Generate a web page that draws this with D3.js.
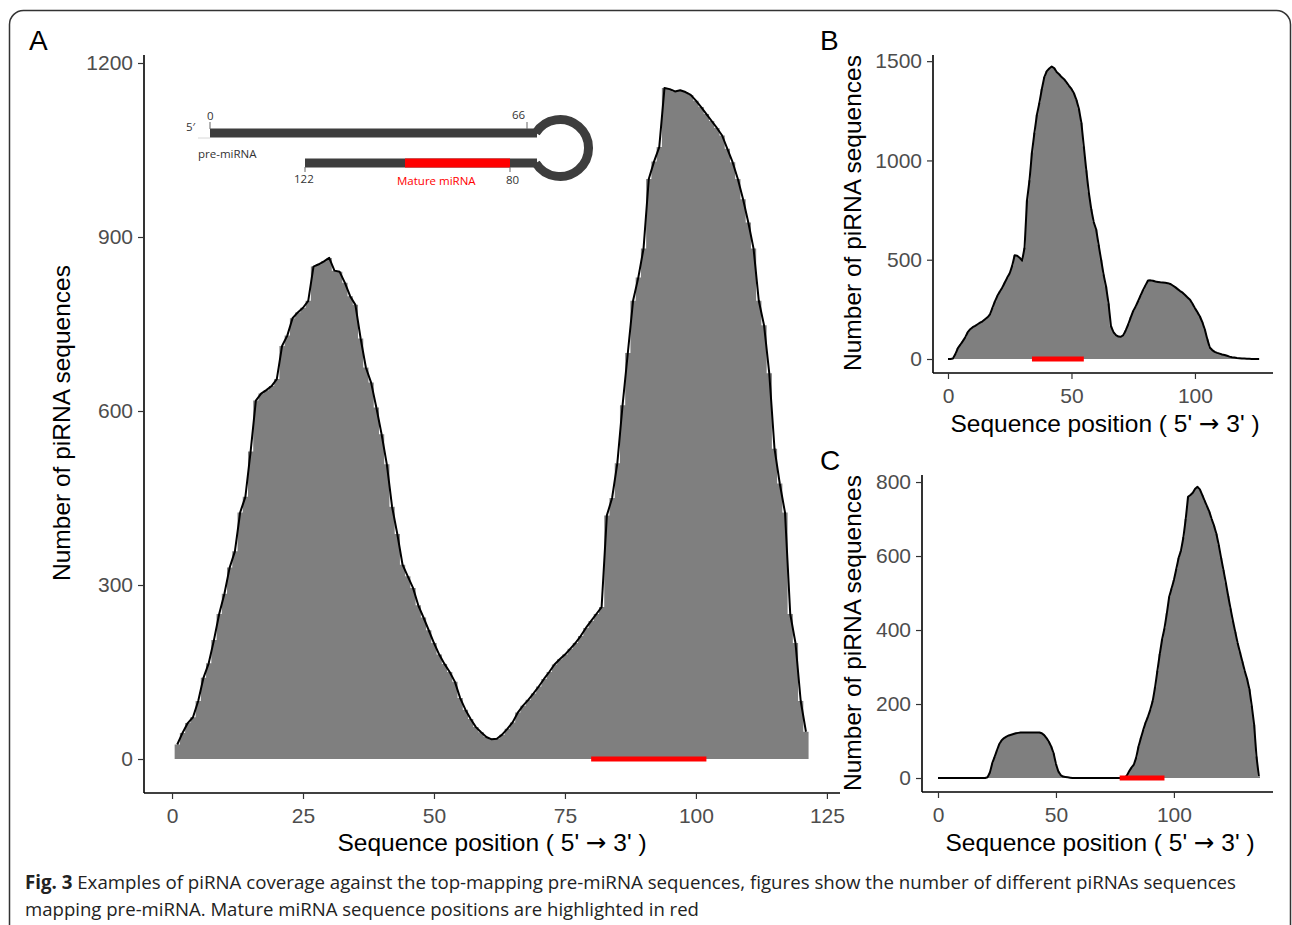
<!DOCTYPE html>
<meta charset="utf-8">
<style>
  body { margin: 0; background: #fff; }
  svg text { font-family: "Liberation Sans", Arial, sans-serif; }
</style>
<script src="https://cdn.jsdelivr.net/npm/d3@7"></script>
<div id="fig"></div>
<script>
// coverage per sequence position (first value is at the start position)
var startA = 1;
var covA = [25,45,62,72,100,140,165,205,250,285,330,358,425,452,530,618,630,636,643,655,
  712,730,760,770,778,790,849,853,858,864,842,840,821,798,783,725,675,649,606,560,
  508,435,388,335,315,295,265,244,222,200,180,164,150,133,105,85,69,55,46,38,
  34,35,42,52,63,80,92,102,113,125,138,150,163,172,180,190,200,212,226,238,
  250,262,420,450,510,610,700,790,830,880,1000,1030,1055,1157,1155,1151,1153,1150,1145,1135,
  1124,1112,1100,1088,1075,1052,1029,1000,965,925,880,790,748,665,535,475,425,250,200,100,47];

var startB = 0;
var covB = [0,0,3,25,55,72,90,110,135,150,160,167,175,183,190,200,210,225,258,290,
  318,340,360,385,410,432,470,522,520,510,495,560,800,900,1040,1140,1230,1290,1360,1420,
  1450,1463,1473,1465,1445,1434,1420,1409,1393,1376,1360,1338,1305,1260,1190,1070,950,840,755,690,
  652,575,500,425,365,280,165,135,120,113,112,120,145,175,210,242,265,292,320,348,
  372,395,396,394,390,388,386,385,384,382,378,370,362,352,342,334,322,310,298,278,
  256,236,214,185,148,100,58,45,36,31,27,23,20,16,12,9,7,5,4,2,
  2,1,1,0,0,0,0];

var startC = 0;
var covC = [0,0,0,0,0,0,0,0,0,0,0,0,0,0,0,0,0,0,0,0,
  0,2,15,40,57,75,92,102,108,112,115,117,119,121,122,123,123,123,123,123,
  123,123,123,123,121,116,108,98,85,67,38,18,8,4,3,2,1,0,0,0,
  0,0,0,0,0,0,0,0,0,0,0,0,0,0,0,0,0,0,0,0,
  6,18,28,36,55,85,108,130,150,166,185,208,245,290,335,375,405,445,490,512,
  535,565,595,615,650,700,760,765,771,782,787,780,765,750,735,720,700,682,660,630,
  595,562,528,492,458,425,395,365,340,315,290,268,240,195,144,58,5];

// mature miRNA span on each pre-miRNA
var matureA = [80, 102];
var matureB = [34, 55];
var matureC = [77, 96];

var ticksAX = [0, 25, 50, 75, 100, 125];
var ticksAY = [0, 300, 600, 900, 1200];
var ticksBX = [0, 50, 100];
var ticksBY = [0, 500, 1000, 1500];
var ticksCX = [0, 50, 100];
var ticksCY = [0, 200, 400, 600, 800];

var yTitle = "Number of piRNA sequences";

var W = 1292, H = 925;
var svg = d3.select("#fig").append("svg").attr("width", W).attr("height", H);

// frame of the figure
svg.append("rect").attr("x", 9.5).attr("y", 10.5).attr("width", 1281).attr("height", 960)
  .attr("rx", 14).attr("fill", "none").attr("stroke", "#333").attr("stroke-width", 1.5);

function panel(o) {
  var x = d3.scaleLinear().domain(o.xd).range(o.xr);
  var y = d3.scaleLinear().domain(o.yd).range(o.yr);
  var g = svg.append("g");
  var pts = o.cov.map(function(v, i) { return {p: o.start + i, v: v}; });

  // grey coverage columns (one unit wide, drawn as a single stepped area)
  var steps = [];
  pts.forEach(function(d) { steps.push([d.p - 0.5, d.v], [d.p + 0.5, d.v]); });
  g.append("path").datum(steps)
    .attr("fill", "#7f7f7f")
    .attr("d", d3.area().x(function(d) { return x(d[0]); })
      .y0(y(0)).y1(function(d) { return y(d[1]); }));

  g.append("path").datum(pts)
    .attr("fill", "none").attr("stroke", "#000").attr("stroke-width", 2)
    .attr("stroke-linejoin", "round")
    .attr("d", d3.line().x(function(d) { return x(d.p); }).y(function(d) { return y(d.v); }));

  g.append("line")
    .attr("x1", x(o.mature[0])).attr("x2", x(o.mature[1]))
    .attr("y1", y(0)).attr("y2", y(0))
    .attr("stroke", "#ff0000").attr("stroke-width", 5);

  var xa = g.append("g").attr("transform", "translate(0," + o.yr[0] + ")")
    .call(d3.axisBottom(x).tickValues(o.tx).tickFormat(d3.format("d")).tickSize(6).tickPadding(5));
  var ya = g.append("g").attr("transform", "translate(" + o.xr[0] + ",0)")
    .call(d3.axisLeft(y).tickValues(o.ty).tickFormat(d3.format("d")).tickSize(6).tickPadding(5));
  [xa, ya].forEach(function(a) {
    a.select(".domain").attr("stroke", "#000").attr("stroke-width", 1.6)
      .attr("d", a === xa ? "M" + o.xr[0] + ",0H" + o.xr[1] : "M0," + o.yr[0] + "V" + o.yr[1]);
    a.selectAll(".tick line").attr("stroke", "#333").attr("stroke-width", 1.2);
    a.selectAll(".tick text").attr("fill", "#4d4d4d").style("font-size", o.fs + "px")
      .style("font-family", "'Liberation Sans', Arial, sans-serif");
  });
  xa.selectAll(".tick text").attr("dy", "0.9em");

  var xt = svg.append("text").attr("x", o.xt[0]).attr("y", o.xt[1]).attr("text-anchor", "middle")
    .style("font-size", o.ts + "px");
  xt.append("tspan").text("Sequence position ( 5' ");
  xt.append("tspan").style("font-family", "'DejaVu Sans', sans-serif").text("\u2192");
  xt.append("tspan").text(" 3' )");
  svg.append("text").attr("transform", "translate(" + o.yt[0] + "," + o.yt[1] + ") rotate(-90)")
    .attr("text-anchor", "middle").style("font-size", o.ts + "px").text(yTitle);
  svg.append("text").attr("x", o.lab[0]).attr("y", o.lab[1]).style("font-size", "28px").text(o.name);
  return {x: x, y: y, g: g};
}

panel({name: "A", cov: covA, start: startA, mature: matureA,
  xd: [-5.35, 127.5], xr: [144, 840], yd: [-58.6, 1213.8], yr: [793, 55],
  tx: ticksAX, ty: ticksAY, fs: 21, ts: 24.5, xt: [492, 851], yt: [70, 423], lab: [29, 50]});
panel({name: "B", cov: covB, start: startB, mature: matureB,
  xd: [-6.07, 131.6], xr: [933, 1273], yd: [-70.5, 1531], yr: [373, 55],
  tx: ticksBX, ty: ticksBY, fs: 21, ts: 24.5, xt: [1105, 432], yt: [861, 213], lab: [820, 50]});
panel({name: "C", cov: covC, start: startC, mature: matureC,
  xd: [-6.78, 142], xr: [922, 1273], yd: [-37.8, 819], yr: [792, 475],
  tx: ticksCX, ty: ticksCY, fs: 21, ts: 24.5, xt: [1100, 851], yt: [861, 633], lab: [820, 470]});

// pre-miRNA hairpin sketch inside panel A
var hp = svg.append("g");
var dark = "#3d3d3d";
hp.append("line").attr("x1", 198).attr("x2", 210).attr("y1", 138).attr("y2", 138)
  .attr("stroke", "#d8d8d8").attr("stroke-width", 1);
hp.append("line").attr("x1", 210).attr("x2", 537).attr("y1", 133).attr("y2", 133)
  .attr("stroke", dark).attr("stroke-width", 9);
hp.append("line").attr("x1", 305).attr("x2", 537).attr("y1", 163).attr("y2", 163)
  .attr("stroke", dark).attr("stroke-width", 9);
hp.append("line").attr("x1", 405).attr("x2", 510).attr("y1", 163).attr("y2", 163)
  .attr("stroke", "#ff0000").attr("stroke-width", 9);
// loop: open on the stem side
hp.append("path").attr("d", "M535.8,133 A28.5,28.5 0 1 1 535.8,163")
  .attr("fill", "none").attr("stroke", dark).attr("stroke-width", 9);
[[210, 122, 129], [527, 122, 129], [305, 167, 172], [510, 167, 172]].forEach(function(t) {
  hp.append("line").attr("x1", t[0]).attr("x2", t[0]).attr("y1", t[1]).attr("y2", t[2])
    .attr("stroke", "#666").attr("stroke-width", 1);
});
var small = [["5\u2032", 186, 131, "#333"], ["0", 207, 120, "#333"], ["66", 512, 119, "#333"],
  ["pre-miRNA", 198, 158, "#333"], ["122", 294, 183, "#333"],
  ["Mature miRNA", 397, 185, "#ff0000"], ["80", 506, 184, "#333"]];
small.forEach(function(s) {
  hp.append("text").attr("x", s[1]).attr("y", s[2]).attr("fill", s[3])
    .style("font-family", "'Open Sans', sans-serif").style("font-size", "11.5px").text(s[0]);
});

// caption
var cap1 = svg.append("text").attr("x", 25).attr("y", 889)
  .attr("textLength", 1211).attr("lengthAdjust", "spacingAndGlyphs")
  .style("font-family", "'Open Sans', sans-serif").style("font-size", "19px").attr("fill", "#222");
cap1.append("tspan").style("font-weight", "bold").text("Fig. 3");
cap1.append("tspan").text(" Examples of piRNA coverage against the top-mapping pre-miRNA sequences, figures show the number of different piRNAs sequences");
svg.append("text").attr("x", 25).attr("y", 916)
  .attr("textLength", 674).attr("lengthAdjust", "spacingAndGlyphs")
  .style("font-family", "'Open Sans', sans-serif").style("font-size", "19px").attr("fill", "#222")
  .text("mapping pre-miRNA. Mature miRNA sequence positions are highlighted in red");
</script>
